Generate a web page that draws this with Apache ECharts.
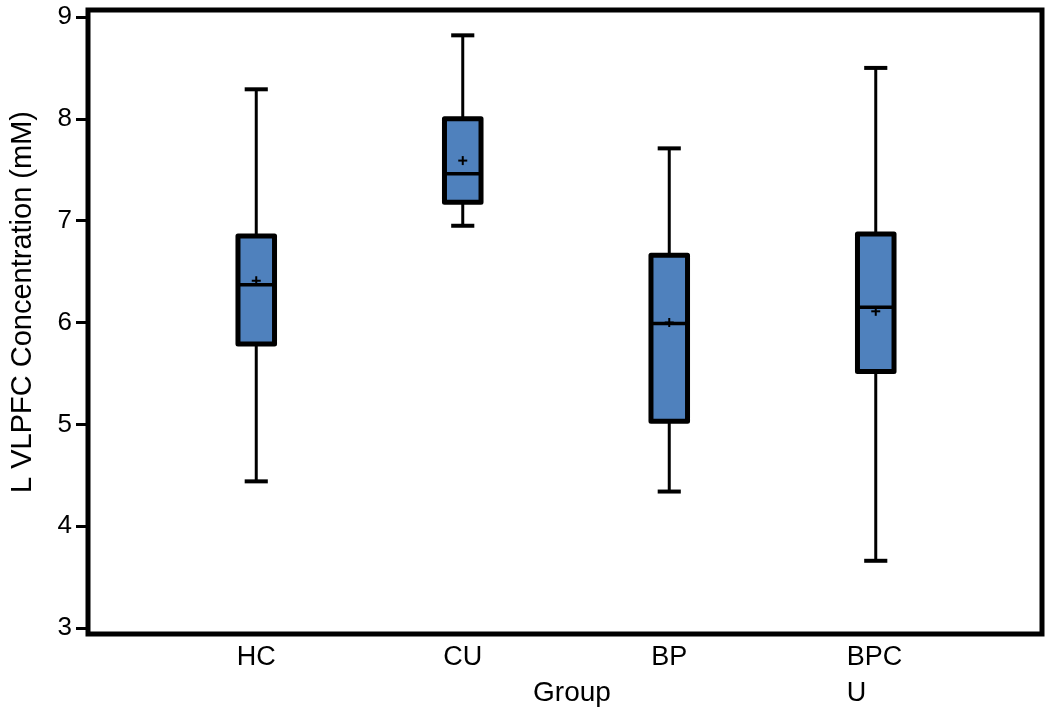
<!DOCTYPE html>
<html>
<head>
<meta charset="utf-8">
<script src="https://cdn.jsdelivr.net/npm/echarts@6/dist/echarts.min.js"></script>
<style>
html,body{margin:0;padding:0;background:#fff;}
#chart{width:1050px;height:712px;}
</style>
</head>
<body>
<div id="chart"></div>
<script>
// ---- data ----
const categories = ['HC', 'CU', 'BP', 'BPCU'];
const categoryLabels = ['HC', 'CU', 'BP', 'BPC\nU'];
const whiskerMin = [4.44, 6.95, 4.34, 3.66];
const q1Values   = [5.79, 7.18, 5.03, 5.52];
const medians    = [6.37, 7.46, 5.99, 6.15];
const q3Values   = [6.85, 8.00, 6.66, 6.87];
const whiskerMax = [8.29, 8.82, 7.71, 8.50];
const means      = [6.41, 7.59, 6.00, 6.11];
const yTicks = [3, 4, 5, 6, 7, 8, 9];
const yTitle = 'L VLPFC Concentration (mM)';
const xTitle = 'Group';

const FONT = '"Liberation Sans", Arial, Helvetica, sans-serif';
const BOX_COLOR = '#4F81BD';

const seriesData = categories.map((c, i) => [i, whiskerMin[i], q1Values[i], medians[i], q3Values[i], whiskerMax[i], means[i]]);

function renderItem(params, api) {
  const idx = api.value(0);
  const band = api.size([1, 0])[0];
  const bw = band * 0.177;
  const cw = band * 0.112;
  const x = api.coord([idx, api.value(3)])[0];
  const yMin = api.coord([idx, api.value(1)])[1];
  const yQ1 = api.coord([idx, api.value(2)])[1];
  const yMed = api.coord([idx, api.value(3)])[1];
  const yQ3 = api.coord([idx, api.value(4)])[1];
  const yMax = api.coord([idx, api.value(5)])[1];
  const yMean = api.coord([idx, api.value(6)])[1];
  const black = '#000';
  return {
    type: 'group',
    children: [
      { type: 'line', shape: { x1: x, y1: yQ3, x2: x, y2: yMax }, style: { stroke: black, lineWidth: 3 } },
      { type: 'line', shape: { x1: x, y1: yQ1, x2: x, y2: yMin }, style: { stroke: black, lineWidth: 3 } },
      { type: 'line', shape: { x1: x - cw / 2, y1: yMax, x2: x + cw / 2, y2: yMax }, style: { stroke: black, lineWidth: 4 } },
      { type: 'line', shape: { x1: x - cw / 2, y1: yMin, x2: x + cw / 2, y2: yMin }, style: { stroke: black, lineWidth: 4 } },
      { type: 'rect', shape: { x: x - bw / 2, y: yQ3, width: bw, height: yQ1 - yQ3 },
        style: { fill: BOX_COLOR, stroke: black, lineWidth: 5, lineJoin: 'round' } },
      { type: 'line', shape: { x1: x - bw / 2, y1: yMed, x2: x + bw / 2, y2: yMed }, style: { stroke: black, lineWidth: 3.5 } },
      { type: 'line', shape: { x1: x - 4.5, y1: yMean, x2: x + 4.5, y2: yMean }, style: { stroke: black, lineWidth: 2 } },
      { type: 'line', shape: { x1: x, y1: yMean - 4.5, x2: x, y2: yMean + 4.5 }, style: { stroke: black, lineWidth: 2 } }
    ]
  };
}

const chart = echarts.init(document.getElementById('chart'), null, { renderer: 'canvas' });
chart.setOption({
  backgroundColor: '#fff',
  animation: false,
  textStyle: { fontFamily: FONT },
  grid: [
    { left: 88, right: 8, top: 10, bottom: 78, show: true, borderColor: '#000', borderWidth: 5, backgroundColor: 'transparent', containLabel: false },
    { left: 153, right: 71, top: 17, bottom: 83, containLabel: false }
  ],
  xAxis: [
    { gridIndex: 0, type: 'value', show: false, min: 0, max: 1 },
    {
      gridIndex: 1, type: 'category', data: categories,
      axisLine: { show: false }, axisTick: { show: false }, splitLine: { show: false },
      axisLabel: {
        color: '#000', fontFamily: FONT, fontSize: 27, lineHeight: 36, margin: 12, interval: 0,
        formatter: function (v) {
          const lbl = categoryLabels[categories.indexOf(v)];
          if (lbl.indexOf('\n') < 0) return '{c|' + lbl + '}';
          return lbl.split('\n').map(s => '{l|' + s + '}').join('\n');
        },
        rich: {
          c: { fontFamily: FONT, fontSize: 27, lineHeight: 36, color: '#000' },
          l: { fontFamily: FONT, fontSize: 27, lineHeight: 36, color: '#000', width: 58, align: 'left' }
        }
      }
    }
  ],
  yAxis: [
    { gridIndex: 0, type: 'value', show: false, min: 0, max: 1 },
    {
      gridIndex: 1, type: 'value', min: yTicks[0], max: yTicks[yTicks.length - 1], interval: 1, offset: 65,
      axisLine: { show: false },
      axisTick: { show: true, length: 12, lineStyle: { color: '#000', width: 3 } },
      splitLine: { show: false },
      axisLabel: { color: '#000', fontFamily: FONT, fontSize: 26, margin: 16 }
    }
  ],
  graphic: [
    { type: 'text', x: 23, y: 302, rotation: Math.PI / 2,
      style: { text: yTitle, fill: '#000', font: '29px ' + FONT, align: 'center', verticalAlign: 'middle' } },
    { type: 'text', x: 572, y: 693,
      style: { text: xTitle, fill: '#000', font: '28px ' + FONT, align: 'center', verticalAlign: 'middle' } }
  ],
  series: [
    {
      type: 'custom', xAxisIndex: 1, yAxisIndex: 1,
      renderItem: renderItem,
      encode: { x: 0, y: [1, 2, 3, 4, 5, 6] },
      data: seriesData,
      clip: false
    }
  ]
});
</script>
</body>
</html>
